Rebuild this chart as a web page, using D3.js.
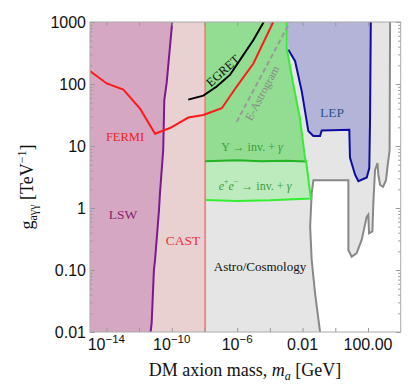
<!DOCTYPE html>
<html>
<head>
<meta charset="utf-8">
<script src="https://cdnjs.cloudflare.com/ajax/libs/d3/7.8.5/d3.min.js"></script>
<style>
body { margin: 0; background: #fff; }
</style>
</head>
<body>
<script>
// axis ticks
var xTicks = [1e-14, 1e-12, 1e-10, 1e-8, 1e-6, 1e-4, 1e-2, 1, 1e2];
var xLabelVals = [1e-14, 1e-10, 1e-6, 1e-2, 1e2];
var xLabelText = [["10", "\u221214"], ["10", "\u221210"], ["10", "\u22126"], ["0.01"], ["100.00"]];
var yTicks = [1000, 100, 10, 1, 0.1, 0.01];
var yTickLabels = ["1000", "100", "10", "1", "0.10", "0.01"];

// exclusion boundaries, [m_a (GeV), g (TeV^-1)]
var lswEdge = [[1.07e-10, 1000], [4.9e-11, 105], [3.5e-11, 55], [3.0e-11, 8.7], [1.9e-11, 1.74],
    [1.66e-11, 0.93], [9.5e-12, 0.145], [8.1e-12, 0.1], [5.9e-12, 0.014], [5.1e-12, 0.01]];
var castMass = 1.1e-8;
var fermiCurve = [[1e-15, 162], [1.05e-14, 102], [1.1e-13, 81], [1.15e-12, 40], [9.5e-12, 15.8],
    [7.8e-11, 19.5], [1.02e-9, 28.8], [8.5e-9, 31.6], [2.2e-8, 34.7], [1.15e-7, 40.7],
    [9.3e-7, 91], [9.8e-6, 214], [1.6e-4, 1000]];
var egretCurve = [[1.02e-9, 56], [8.5e-9, 65], [5.6e-8, 91], [3.6e-7, 140], [1.5e-6, 245],
    [9.8e-6, 513], [4.2e-5, 1000]];
var eAstrogramLine = [[9.3e-7, 24.5], [1.7e-3, 1000]];
var upsilonEdge = [[1.07e-3, 1000], [1.07e-3, 380], [2.7e-3, 98], [6.9e-3, 28], [0.014, 6.5], [0.0165, 5.6]];
var upsilonFloor = [[0.0165, 5.6], [1e-3, 5.8], [3e-5, 5.7], [1e-6, 5.9], [1.1e-8, 5.7]];
var eeEdge = [[0.0165, 5.6], [0.029, 1.74], [0.033, 1.42]];
var eeFloor = [[0.033, 1.42], [1e-4, 1.33], [1e-6, 1.3], [1.1e-8, 1.35]];
var lepEdge = [[1.1e-3, 1000], [1.35e-3, 357], [3.5e-3, 233], [8.9e-3, 76], [0.0225, 17.4],
    [0.0455, 14.5], [0.117, 14.5], [0.148, 17.8], [7.2, 18.3], [7.9, 6.5], [16.2, 3.44],
    [25.8, 2.7], [84, 3.1], [120, 4.4], [134, 28], [148, 1000]];
var astroEdge = [[2240, 1000], [2100, 8.6], [1600, 4.9], [1260, 2.8], [830, 2.2], [550, 2.35],
    [430, 3.4], [380, 5.3], [270, 4.1], [212, 1.2], [186, 0.42], [116, 0.39], [104, 0.78],
    [83, 0.72], [41, 0.305], [20, 0.186], [10, 0.164], [6.3, 0.21], [6.3, 2.8], [0.046, 2.8],
    [0.036, 1.73], [0.029, 0.5], [0.036, 0.145], [0.058, 0.042], [0.117, 0.01]];

var W = 416, H = 390;
var plotL = 90, plotR = 400.7, plotT = 22, plotB = 332;

var x = d3.scaleLog().domain([1e-15, 1e4]).range([plotL, plotR]);
var y = d3.scaleLog().domain([0.01, 1000]).range([plotB, plotT]);

var svg = d3.select("body").append("svg")
    .attr("width", W)
    .attr("height", H);

svg.append("defs").append("clipPath").attr("id", "plot")
    .append("rect")
    .attr("x", plotL).attr("y", plotT)
    .attr("width", plotR - plotL).attr("height", plotB - plotT);

var line = d3.line()
    .x(function(d) { return x(d[0]); })
    .y(function(d) { return y(d[1]); });

var g = svg.append("g").attr("clip-path", "url(#plot)");

// filled regions
var xMin = x.domain()[0], yMin = y.domain()[0], yMax = y.domain()[1];

g.append("path")
    .attr("d", line([[xMin, yMax]].concat(astroEdge, [[xMin, yMin]])) + "Z")
    .attr("fill", "#e5e5e5");

g.append("path")
    .attr("d", line([[xMin, yMax]].concat(lswEdge, [[xMin, yMin]])) + "Z")
    .attr("fill", "#d5a7c3");

g.append("path")
    .attr("d", line(lswEdge.concat([[castMass, yMin], [castMass, yMax]])) + "Z")
    .attr("fill", "#e9d1d2");

g.append("path")
    .attr("d", line([[castMass, yMax]].concat(upsilonEdge, upsilonFloor)) + "Z")
    .attr("fill", "#92dd92");

g.append("path")
    .attr("d", line(upsilonFloor.slice().reverse().concat(eeEdge, eeFloor)) + "Z")
    .attr("fill", "#bdebbd");

g.append("path")
    .attr("d", line(lepEdge) + "Z")
    .attr("fill", "#b4b4d8");

// boundary lines
g.append("path")
    .attr("d", line([[castMass, yMin], [castMass, yMax]]))
    .attr("fill", "none").attr("stroke", "#f28080").attr("stroke-width", 1.8);

g.append("path")
    .attr("d", line(lswEdge))
    .attr("fill", "none").attr("stroke", "#7a1890").attr("stroke-width", 2);

g.append("path")
    .attr("d", line(astroEdge))
    .attr("fill", "none").attr("stroke", "#888").attr("stroke-width", 2);

g.append("path")
    .attr("d", line(lepEdge.slice(1)))
    .attr("fill", "none").attr("stroke", "#0c0ca0").attr("stroke-width", 2);

g.append("path")
    .attr("d", line(upsilonFloor))
    .attr("fill", "none").attr("stroke", "#22b422").attr("stroke-width", 2);

g.append("path")
    .attr("d", line(upsilonEdge.concat(eeEdge.slice(1), eeFloor.slice(1))))
    .attr("fill", "none").attr("stroke", "#33ee33").attr("stroke-width", 2);

g.append("path")
    .attr("d", line(eAstrogramLine))
    .attr("fill", "none").attr("stroke", "#999").attr("stroke-width", 2)
    .attr("stroke-dasharray", "5,3");

g.append("path")
    .attr("d", line(fermiCurve))
    .attr("fill", "none").attr("stroke", "#ff1a1a").attr("stroke-width", 2);

g.append("path")
    .attr("d", line(egretCurve))
    .attr("fill", "none").attr("stroke", "#000").attr("stroke-width", 2);

// region labels
var serif = "'Liberation Serif', 'DejaVu Serif', serif";
function label(px, py, txt, color, size, rot) {
    var t = svg.append("text")
        .attr("x", px).attr("y", py)
        .attr("text-anchor", "middle")
        .attr("dominant-baseline", "central")
        .attr("font-family", serif)
        .attr("font-size", size)
        .attr("fill", color)
        .text(txt);
    if (rot) t.attr("transform", "rotate(" + rot + "," + px + "," + py + ")");
    return t;
}
label(125, 137, "FERMI", "#ee2222", 12.5);
label(123, 214, "LSW", "#8a1f6e", 13.5);
label(183, 240, "CAST", "#ee3333", 13.5);
label(332, 112, "LEP", "#2a5590", 13.5);
label(260, 266, "Astro/Cosmology", "#111", 13);
label(223, 71, "EGRET", "#111", 12.5, -42);
label(262, 93, "E-Astrogram", "#888", 11.5, -62);

var ups = svg.append("text")
    .attr("x", 252).attr("y", 147)
    .attr("text-anchor", "middle").attr("dominant-baseline", "central")
    .attr("font-family", serif).attr("font-size", 12).attr("fill", "#3c9e3c");
ups.append("tspan").text("\u03a5 \u2192 inv. + ");
ups.append("tspan").attr("font-style", "italic").text("\u03b3");

var ee = svg.append("text")
    .attr("x", 255).attr("y", 186)
    .attr("text-anchor", "middle").attr("dominant-baseline", "central")
    .attr("font-family", serif).attr("font-size", 12).attr("fill", "#3c9e3c");
ee.append("tspan").attr("font-style", "italic").text("e");
ee.append("tspan").attr("font-size", 8).attr("dy", -5).text("+");
ee.append("tspan").attr("font-style", "italic").attr("dy", 5).text("e");
ee.append("tspan").attr("font-size", 8).attr("dy", -5).text("\u2212");
ee.append("tspan").attr("dy", 5).text(" \u2192 inv. + ");
ee.append("tspan").attr("font-style", "italic").text("\u03b3");

// axes
var minorY = [];
for (var e = -2; e < 3; e++) {
    for (var k = 2; k < 10; k++) minorY.push(k * Math.pow(10, e));
}

function styleAxis(sel) {
    sel.select(".domain").remove();
    sel.selectAll(".tick line").attr("stroke", "#999");
}

svg.append("g")
    .attr("transform", "translate(0," + plotB + ")")
    .call(d3.axisBottom(x).tickValues(xTicks).tickSizeInner(-4).tickSizeOuter(0).tickFormat(""))
    .call(styleAxis);
svg.append("g")
    .attr("transform", "translate(0," + plotT + ")")
    .call(d3.axisTop(x).tickValues(xTicks).tickSizeInner(-4).tickSizeOuter(0).tickFormat(""))
    .call(styleAxis);

[d3.axisLeft, d3.axisRight].forEach(function(ax, i) {
    var px = i === 0 ? plotL : plotR;
    svg.append("g")
        .attr("transform", "translate(" + px + ",0)")
        .call(ax(y).tickValues(yTicks).tickSizeInner(-5).tickSizeOuter(0)
            .tickPadding(4)
            .tickFormat(function(d, j) { return i === 0 ? yTickLabels[j] : ""; }))
        .call(styleAxis)
        .selectAll("text")
        .attr("font-family", "'Liberation Sans', Arial, sans-serif")
        .attr("font-size", 16)
        .attr("fill", "#111");
    svg.append("g")
        .attr("transform", "translate(" + px + ",0)")
        .call(ax(y).tickValues(minorY).tickSizeInner(-2.5).tickSizeOuter(0).tickFormat(""))
        .call(styleAxis);
});

svg.append("rect")
    .attr("x", plotL).attr("y", plotT)
    .attr("width", plotR - plotL).attr("height", plotB - plotT)
    .attr("fill", "none").attr("stroke", "#aaa").attr("stroke-width", 1);

var xl = svg.append("g").selectAll("text")
    .data(xLabelVals)
    .enter()
    .append("text")
    .attr("x", function(d) { return x(d); })
    .attr("y", 350)
    .attr("text-anchor", "middle")
    .attr("font-family", "'Liberation Sans', Arial, sans-serif")
    .attr("font-size", 16)
    .attr("fill", "#111");
xl.each(function(d, i) {
    var parts = xLabelText[i];
    var t = d3.select(this);
    t.append("tspan").text(parts[0]);
    if (parts[1]) t.append("tspan").attr("font-size", 11.5).attr("dy", -7).text(parts[1]);
});

// axis titles
var xt = svg.append("text")
    .attr("x", 245).attr("y", 376)
    .attr("text-anchor", "middle")
    .attr("font-family", serif).attr("font-size", 18).attr("fill", "#111");
xt.append("tspan").text("DM axion mass, ");
xt.append("tspan").attr("font-style", "italic").text("m");
xt.append("tspan").attr("font-style", "italic").attr("font-size", 12).attr("dy", 4).text("a");
xt.append("tspan").attr("dy", -4).text(" [GeV]");

var yt = svg.append("text")
    .attr("transform", "translate(33,187) rotate(-90)")
    .attr("text-anchor", "middle")
    .attr("font-family", serif).attr("font-size", 18).attr("fill", "#111");
yt.append("tspan").text("g");
yt.append("tspan").attr("font-size", 12).attr("dy", 4).text("a\u03b3\u03b3");
yt.append("tspan").attr("dy", -4).text(" [TeV");
yt.append("tspan").attr("font-size", 12).attr("dy", -7).text("\u22121");
yt.append("tspan").attr("dy", 7).text("]");
</script>
</body>
</html>
